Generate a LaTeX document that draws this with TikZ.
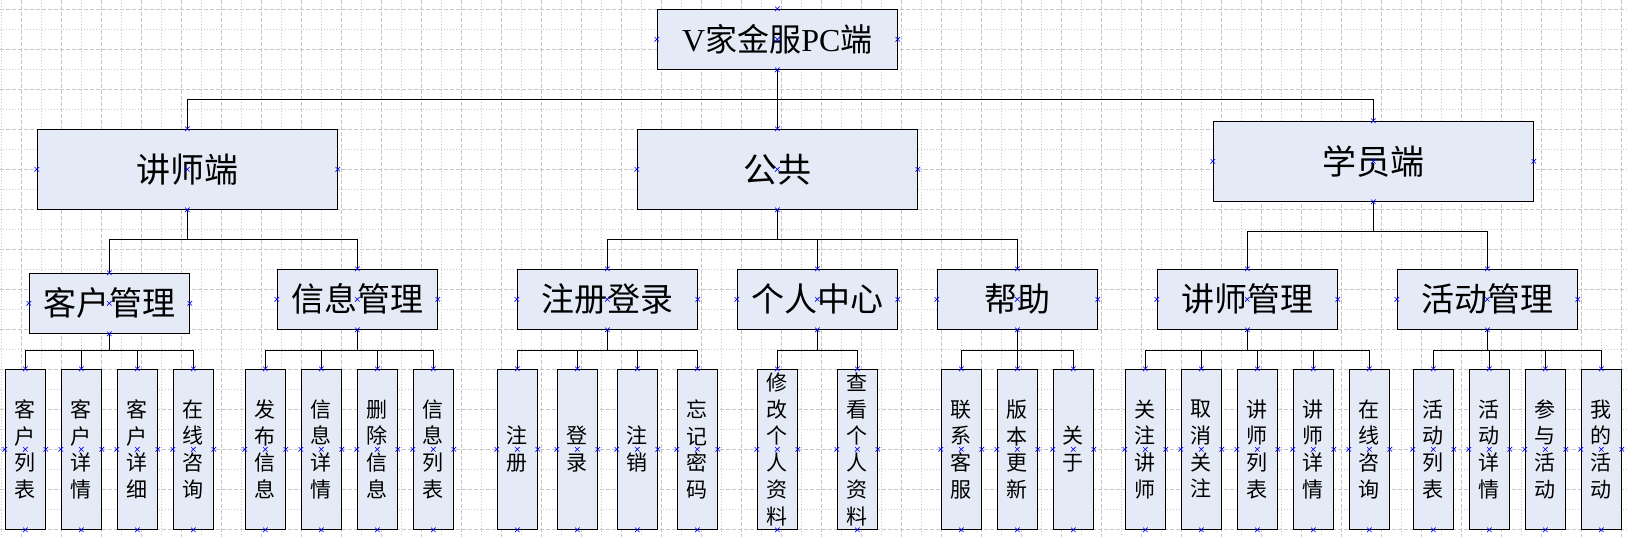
\documentclass[tikz,border=0pt]{standalone}
\usepackage{fontspec}
\setmainfont{Liberation Serif}
\newfontfamily\cjk{Noto Sans CJK SC}
\usetikzlibrary{shapes.misc}
\definecolor{boxfill}{HTML}{E5EBF6}

\begin{document}
\begin{tikzpicture}[x=1pt,y=-1pt]
	\tikzstyle{grid_a} = [gray!45, dash pattern=on 4pt off 2pt, line width=0.5pt]
	\tikzstyle{grid_b} = [gray!45, dash pattern=on 1pt off 2pt, line width=0.5pt]
	\tikzstyle{box} = [draw, line width=1pt, fill=boxfill, align=center]
	\tikzstyle{root} = [box, minimum width=240pt, minimum height=60pt, font=\cjk\fontsize{32}{36}\selectfont]
	\tikzstyle{side} = [box, minimum height=80pt, font=\cjk\fontsize{34}{38}\selectfont]
	\tikzstyle{group} = [box, minimum height=60pt, font=\cjk\fontsize{33}{38}\selectfont]
	\tikzstyle{leaf} = [box, minimum width=40pt, minimum height=160pt, inner sep=1pt, font=\cjk\fontsize{21}{26.7}\selectfont]
	\tikzstyle{edge} = [line width=1pt]
	\tikzstyle{mk} = [cross out, draw=blue, line width=0.6pt, minimum size=4pt, inner sep=0pt]

\useasboundingbox (0,0) rectangle (1627,537);

% grid paper
\foreach \i in {0,...,40} {
	\draw[grid_b] ({1.7+40*\i},0) -- ++(0,537);
	\draw[grid_a] ({21.7+40*\i},0) -- ++(0,537);
}
\foreach \i in {0,...,13}
	\draw[grid_a] (0,{9.3+40*\i}) -- ++(1627,0);
\foreach \i in {0,...,12}
	\draw[grid_b] (0,{29.3+40*\i}) -- ++(1627,0);

%top
\node[root] (pc) at (777.3,39.3) {\textrm{V}家金服\textrm{PC}端};

%sides
\node[side, minimum width=300pt] (teacher) at (187.3,169.3) {讲师端};
\node[side, minimum width=280pt] (common) at (777.3,169.3) {公共};
\node[side, minimum width=320pt] (student) at (1373.3,161.3) {学员端};

%groups
\node[group, minimum width=160pt] (cust) at (109.3,303.3) {客户管理};
\foreach \name/\x/\w/\txt in {info/357.3/160/信息管理, reg/607.3/180/注册登录, me/817.3/160/个人中心,
		help/1017.3/160/帮助, tmgr/1247.3/180/讲师管理, act/1487.3/180/活动管理}
	\node[group, minimum width=\w pt] (\name) at (\x, 299.3) {\txt};

%leaves
\foreach \name/\x/\txt in {c1/25.3/{客\\户\\列\\表}, c2/81.3/{客\\户\\详\\情}, c3/137.3/{客\\户\\详\\细}, c4/193.3/{在\\线\\咨\\询},
		i1/265.3/{发\\布\\信\\息}, i2/321.3/{信\\息\\详\\情}, i3/377.3/{删\\除\\信\\息}, i4/433.3/{信\\息\\列\\表},
		r1/517.3/{注\\册}, r2/577.3/{登\\录}, r3/637.3/{注\\销}, r4/697.3/{忘\\记\\密\\码},
		m1/777.3/{修\\改\\个\\人\\资\\料}, m2/857.3/{查\\看\\个\\人\\资\\料},
		h1/961.3/{联\\系\\客\\服}, h2/1017.3/{版\\本\\更\\新}, h3/1073.3/{关\\于},
		t1/1145.3/{关\\注\\讲\\师}, t2/1201.3/{取\\消\\关\\注}, t3/1257.3/{讲\\师\\列\\表}, t4/1313.3/{讲\\师\\详\\情}, t5/1369.3/{在\\线\\咨\\询},
		a1/1433.3/{活\\动\\列\\表}, a2/1489.3/{活\\动\\详\\情}, a3/1545.3/{参\\与\\活\\动}, a4/1601.3/{我\\的\\活\\动}}
	\node[leaf] (\name) at (\x, 449.3) {\txt};

%connectors
\foreach \from/\to in {pc/teacher, pc/common, pc/student,
		teacher/cust, teacher/info, common/reg, common/me, common/help, student/tmgr, student/act}
	\draw[edge] (\from.south) -- ++(0,30) -| (\to.north);

\foreach \from/\to/\gap in {cust/c1/17, cust/c2/17, cust/c3/17, cust/c4/17,
		info/i1/21, info/i2/21, info/i3/21, info/i4/21,
		reg/r1/21, reg/r2/21, reg/r3/21, reg/r4/21, me/m1/21, me/m2/21,
		help/h1/21, help/h2/21, help/h3/21,
		tmgr/t1/21, tmgr/t2/21, tmgr/t3/21, tmgr/t4/21, tmgr/t5/21,
		act/a1/21, act/a2/21, act/a3/21, act/a4/21}
	\draw[edge] (\from.south) -- ++(0,\gap) -| (\to.north);

%connection points
\foreach \n in {pc, teacher, common, student, cust, info, reg, me, help, tmgr, act,
		c1, c2, c3, c4, i1, i2, i3, i4, r1, r2, r3, r4, m1, m2, h1, h2, h3,
		t1, t2, t3, t4, t5, a1, a2, a3, a4}
	\foreach \a in {north, south, east, west, center}
		\node[mk] at (\n.\a) {};
\end{tikzpicture}
\end{document}
